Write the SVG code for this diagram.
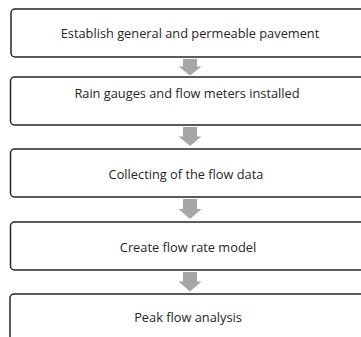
<svg xmlns="http://www.w3.org/2000/svg" width="361" height="337" viewBox="0 0 361 337">
<style>
.box{fill:#fff;stroke:#262626;stroke-width:1.5}
.lbl{font-family:"Open Sans","Liberation Sans",sans-serif;font-size:12.8px;fill:#262626;text-anchor:middle}
.arr{fill:#a6a6a6}
</style>
<rect width="361" height="337" fill="#fff"/>
<g id="connectors">
<polygon class="arr" points="183,59 197,59 197,66.5 201.5,66.5 190,75.5 178.5,66.5 183,66.5"/>
<polygon class="arr" points="183,127 197,127 197,136.5 201.5,136.5 190,146 178.5,136.5 183,136.5"/>
<polygon class="arr" points="183,199 197,199 197,209 201.5,209 190,219 178.5,209 183,209"/>
<polygon class="arr" points="183,272 197,272 197,281.5 201.5,281.5 190,291.5 178.5,281.5 183,281.5"/>
</g>
<g id="n1"><rect class="box" x="11" y="9" width="360" height="48" rx="4"/><text class="lbl" x="190" y="37.8">Establish general and permeable pavement</text></g>
<g id="n2"><rect class="box" x="10.5" y="77" width="360" height="48" rx="4"/><text class="lbl" x="187" y="97.5">Rain gauges and flow meters installed</text></g>
<g id="n3"><rect class="box" x="10.5" y="149" width="360" height="48" rx="4"/><text class="lbl" x="186" y="178.8">Collecting of the flow data</text></g>
<g id="n4"><rect class="box" x="10.5" y="222" width="360" height="48" rx="4"/><text class="lbl" x="188" y="251.5">Create flow rate model</text></g>
<g id="n5"><rect class="box" x="10" y="294" width="360" height="60" rx="4"/><text class="lbl" x="188" y="322">Peak flow analysis</text></g>
</svg>
